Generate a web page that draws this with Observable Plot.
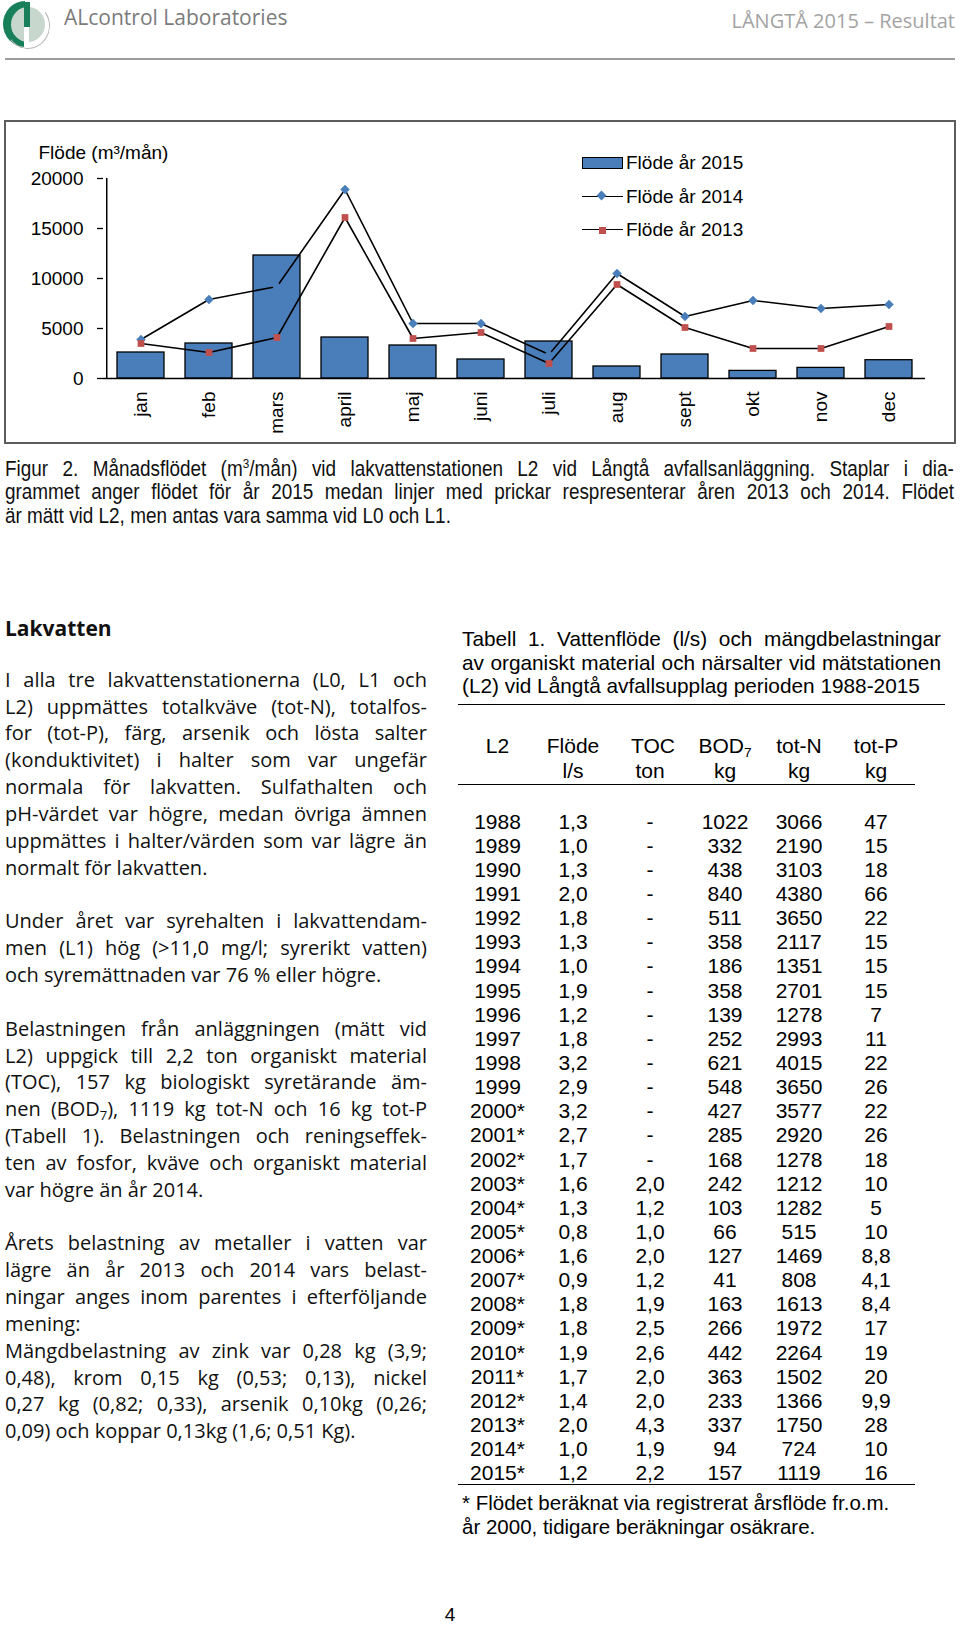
<!DOCTYPE html>
<html lang="sv">
<head>
<meta charset="utf-8">
<script src="https://cdn.jsdelivr.net/npm/d3@7"></script>
<script src="https://cdn.jsdelivr.net/npm/@observablehq/plot@0.6"></script>
<style>
html,body{margin:0;padding:0;background:#fff}
body{width:960px;height:1625px;position:relative;overflow:hidden;font-family:"Liberation Sans",Arial,sans-serif;color:#000}
.abs{position:absolute}
.jl{display:flex;justify-content:space-between;white-space:nowrap}
.ll{white-space:nowrap}
sub{font-size:0.65em;vertical-align:-0.3em;line-height:0}
sup{font-size:0.62em;vertical-align:0.6em;line-height:0}
#chartbox{position:absolute;left:4px;top:120px;width:948px;height:320px;border:2px solid #5c5c5c}
#chartbox svg{display:block;position:absolute;left:0;top:0}
.cell{position:absolute;width:120px;margin-left:-60px;text-align:center;white-space:nowrap;font-size:21px;line-height:24px}
.rule{position:absolute;border-top:1.6px solid #000;height:0}
</style>
</head>
<body>
<!-- logo -->
<div class="abs" style="left:3px;top:1px;width:22px;height:46px;background:#17805a;border-radius:22px 0 0 22px / 23px 0 0 23px"></div>
<div class="abs" style="left:11px;top:7px;width:34px;height:35px;background:#c8d7ce;border-radius:50%"></div>
<div class="abs" style="left:24px;top:2px;width:6px;height:25px;background:#17805a"></div>
<div class="abs" style="left:24px;top:27px;width:5px;height:20px;background:#fff"></div>
<div class="abs" style="left:6px;top:3px;width:42px;height:44px;border-radius:50%;border:1.5px solid transparent;border-right-color:#b5b5b5;border-bottom-color:#b5b5b5;transform:rotate(8deg)"></div>
<div class="abs" style="left:64px;top:3px;font:21px 'Open Sans',sans-serif;color:#7b7b7b;line-height:28px;white-space:nowrap">ALcontrol Laboratories</div>
<div class="abs" style="right:5px;top:7px;font:20px 'Open Sans',sans-serif;color:#a3a3a3;line-height:28px;white-space:nowrap">LÅNGTÅ 2015 – Resultat</div>
<div class="abs" style="left:5px;top:58px;width:950px;border-top:2px solid #9c9c9c"></div>

<div id="chartbox">
  <div id="legend"></div>
</div>

<script>
// ---------- chart data ----------
const months = ["jan","feb","mars","april","maj","juni","juli","aug","sept","okt","nov","dec"];
const flow2015 = [2600, 3500, 12300, 4100, 3300, 1900, 3700, 1200, 2400, 760, 1060, 1830];
const flow2014 = [3900, 7900, 9200, 18900, 5500, 5500, 2400, 10500, 6200, 7800, 7000, 7400];
const flow2013 = [3500, 2600, 4100, 16100, 4000, 4600, 1500, 9400, 5100, 3000, 3000, 5200];
const yTicks = [0, 5000, 10000, 15000, 20000];
const yLabel = "Flöde (m³/mån)";
const seriesLabels = ["Flöde år 2015", "Flöde år 2014", "Flöde år 2013"];

// ---------- table data ----------
const years = ["1988","1989","1990","1991","1992","1993","1994","1995","1996","1997","1998","1999",
  "2000*","2001*","2002*","2003*","2004*","2005*","2006*","2007*","2008*","2009*","2010*","2011*","2012*","2013*","2014*","2015*"];
const flode = ["1,3","1,0","1,3","2,0","1,8","1,3","1,0","1,9","1,2","1,8","3,2","2,9","3,2","2,7","1,7","1,6","1,3","0,8","1,6","0,9","1,8","1,8","1,9","1,7","1,4","2,0","1,0","1,2"];
const toc = ["-","-","-","-","-","-","-","-","-","-","-","-","-","-","-","2,0","1,2","1,0","2,0","1,2","1,9","2,5","2,6","2,0","2,0","4,3","1,9","2,2"];
const bod7 = ["1022","332","438","840","511","358","186","358","139","252","621","548","427","285","168","242","103","66","127","41","163","266","442","363","233","337","94","157"];
const totN = ["3066","2190","3103","4380","3650","2117","1351","2701","1278","2993","4015","3650","3577","2920","1278","1212","1282","515","1469","808","1613","1972","2264","1502","1366","1750","724","1119"];
const totP = ["47","15","18","66","22","15","15","15","7","11","22","26","22","26","18","10","5","10","8,8","4,1","8,4","17","19","20","9,9","28","10","16"];
const headRow1 = ["L2","Flöde","TOC","BOD<sub>7</sub>","tot-N","tot-P"];
const headRow2 = ["","l/s","ton","kg","kg","kg"];

// ---------- chart ----------
const BAR = "#4a7ebb", RED = "#c0504d";
const W = 948, H = 320, ML = 97, MR = 29, MT = 56, MB = 64;
const step = (W - ML - MR) / months.length;
const rows = months.map((m, i) => ({month: m, v15: flow2015[i], v14: flow2014[i], v13: flow2013[i]}));

const chart = Plot.plot({
  width: W, height: H,
  marginLeft: ML, marginRight: MR, marginTop: MT, marginBottom: MB,
  style: {fontFamily: '"Liberation Sans", Arial, sans-serif', fontSize: "19px", color: "#000", background: "transparent", overflow: "visible"},
  x: {domain: months, paddingInner: 0.31, paddingOuter: 0.155, axis: null},
  y: {domain: [0, 20000], axis: null},
  marks: [
    Plot.barY(rows, {x: "month", y: "v15", fill: BAR, stroke: "#000", strokeWidth: 1.3}),
    Plot.line(rows, {x: "month", y: "v14", stroke: "#000", strokeWidth: 1.6}),
    Plot.line(rows, {x: "month", y: "v13", stroke: "#000", strokeWidth: 1.6}),
    Plot.dot(rows, {x: "month", y: "v14", symbol: "diamond2", r: 4.3, fill: BAR}),
    Plot.dot(rows, {x: "month", y: "v13", symbol: "square", r: 3.8, fill: RED}),
    Plot.ruleY([0], {stroke: "#000", strokeWidth: 1.5}),
    Plot.ruleX([months[0]], {y1: 0, y2: 20000, dx: -step / 2, stroke: "#000", strokeWidth: 1.5}),
    Plot.axisY({ticks: yTicks, tickSize: 6, tickPadding: 14, tickFormat: d => String(d), label: null, stroke: "#000", strokeWidth: 1.3}),
    Plot.axisX({tickRotate: -90, tickSize: 0, tickPadding: 13, label: null}),
    Plot.text([yLabel], {text: d => d, frameAnchor: "top-left", dx: -65, dy: -33, textAnchor: "start", fontSize: 19})
  ]
});
document.getElementById("chartbox").appendChild(chart);

// ---------- legend (inside chart box, HTML) ----------
(function () {
  const lg = document.getElementById("legend");
  const ys = [41, 75, 108];
  let h = "";
  h += `<div class="abs" style="left:576px;top:${ys[0]-6}px;width:39px;height:10px;background:${BAR};border:1.3px solid #000"></div>`;
  h += `<div class="abs" style="left:576px;top:${ys[1]-0.8}px;width:41px;border-top:1.6px solid #000"></div>`;
  h += `<div class="abs" style="left:591.5px;top:${ys[1]-5}px;width:7px;height:7px;background:${BAR};transform:rotate(45deg)"></div>`;
  h += `<div class="abs" style="left:576px;top:${ys[2]-0.8}px;width:41px;border-top:1.6px solid #000"></div>`;
  h += `<div class="abs" style="left:593px;top:${ys[2]-3.5}px;width:7px;height:7px;background:${RED}"></div>`;
  seriesLabels.forEach((s, i) => {
    h += `<div class="abs" style="left:620px;top:${ys[i]-12}px;font-size:19px;line-height:24px;white-space:nowrap">${s}</div>`;
  });
  lg.innerHTML = h;
})();

// ---------- text blocks ----------
function block(lines, o) {
  const wrap = document.createElement("div");
  wrap.className = "abs";
  const sx = o.sx || 1;
  Object.assign(wrap.style, {left: o.left + "px", top: o.top + "px", width: (o.width / sx) + "px",
    font: o.font, lineHeight: o.lh + "px", color: o.color || "#000"});
  if (sx !== 1) { wrap.style.transform = `scaleX(${sx})`; wrap.style.transformOrigin = "0 0"; }
  for (const ln of lines) {
    const d = document.createElement("div");
    d.style.height = o.lh + "px";
    if (ln === "") { /* blank line */ }
    else if (ln.startsWith("|")) { d.className = "ll"; d.innerHTML = ln.slice(1); }
    else { d.className = "jl"; d.innerHTML = ln.split(" ").map(w => `<span>${w}</span>`).join(""); }
    wrap.appendChild(d);
  }
  document.body.appendChild(wrap);
}

// figure caption
block([
  "Figur 2. Månadsflödet (m<sup>3</sup>/mån) vid lakvattenstationen L2 vid Långtå avfallsanläggning. Staplar i dia-",
  "grammet anger flödet för år 2015 medan linjer med prickar respresenterar åren 2013 och 2014. Flödet",
  "|är mätt vid L2, men antas vara samma vid L0 och L1."
], {left: 5, top: 457, width: 949, lh: 23.3, font: '22px "Liberation Sans", Arial, sans-serif', sx: 0.86, color: "#111"});

// heading
const hd = document.createElement("div");
hd.className = "abs";
Object.assign(hd.style, {left: "5px", top: "614px", font: 'bold 21px "Open Sans", sans-serif', lineHeight: "28px", color: "#111"});
hd.textContent = "Lakvatten";
document.body.appendChild(hd);

// left body text
block([
  "I alla tre lakvattenstationerna (L0, L1 och",
  "L2) uppmättes totalkväve (tot-N), totalfos-",
  "for (tot-P), färg, arsenik och lösta salter",
  "(konduktivitet) i halter som var ungefär",
  "normala för lakvatten. Sulfathalten och",
  "pH-värdet var högre, medan övriga ämnen",
  "uppmättes i halter/värden som var lägre än",
  "|normalt för lakvatten.",
  "",
  "Under året var syrehalten i lakvattendam-",
  "men (L1) hög (>11,0 mg/l; syrerikt vatten)",
  "|och syremättnaden var 76 % eller högre.",
  "",
  "Belastningen från anläggningen (mätt vid",
  "L2) uppgick till 2,2 ton organiskt material",
  "(TOC), 157 kg biologiskt syretärande äm-",
  "nen (BOD<sub>7</sub>), 1119 kg tot-N och 16 kg tot-P",
  "(Tabell 1). Belastningen och reningseffek-",
  "ten av fosfor, kväve och organiskt material",
  "|var högre än år 2014.",
  "",
  "Årets belastning av metaller i vatten var",
  "lägre än år 2013 och 2014 vars belast-",
  "ningar anges inom parentes i efterföljande",
  "|mening:",
  "Mängdbelastning av zink var 0,28 kg (3,9;",
  "0,48), krom 0,15 kg (0,53; 0,13), nickel",
  "0,27 kg (0,82; 0,33), arsenik 0,10kg (0,26;",
  "|0,09) och koppar 0,13kg (1,6; 0,51 Kg)."
], {left: 5, top: 666.7, width: 422, lh: 26.85, font: '20px "Open Sans", sans-serif', color: "#111"});

// table caption
block([
  "Tabell 1. Vattenflöde (l/s) och mängdbelastningar",
  "av organiskt material och närsalter vid mätstationen",
  "|(L2) vid Långtå avfallsupplag perioden 1988-2015"
], {left: 462, top: 626.7, width: 479, lh: 23.85, font: '20.8px "Liberation Sans", Arial, sans-serif'});

// table
const colX = [497.5, 573, 650, 725, 799, 876];
function cell(txt, x, yc) {
  const d = document.createElement("div");
  d.className = "cell";
  d.style.left = x + "px";
  d.style.top = (yc - 12) + "px";
  d.innerHTML = txt;
  document.body.appendChild(d);
}
function rule(l, t, w) {
  const d = document.createElement("div");
  d.className = "rule";
  Object.assign(d.style, {left: l + "px", top: t + "px", width: w + "px"});
  document.body.appendChild(d);
}
rule(458, 704, 487);
headRow1.forEach((t, j) => cell(t, colX[j] + (j === 2 ? 3 : 0), 746.4));
headRow2.forEach((t, j) => cell(t, colX[j], 771));
rule(458, 784, 457);
const cols = [years, flode, toc, bod7, totN, totP];
years.forEach((_, i) => {
  const yc = 821.7 + i * 24.13;
  cols.forEach((c, j) => cell(c[i], colX[j], yc));
});
rule(458, 1484, 457);

// footnote
block([
  "|* Flödet beräknat via registrerat årsflöde fr.o.m.",
  "|år 2000, tidigare beräkningar osäkrare."
], {left: 462, top: 1490.5, width: 480, lh: 24, font: '20.5px "Liberation Sans", Arial, sans-serif'});

// page number
const pn = document.createElement("div");
pn.className = "abs";
Object.assign(pn.style, {left: "444px", top: "1603px", width: "12px", textAlign: "center", fontSize: "19px", lineHeight: "24px"});
pn.textContent = "4";
document.body.appendChild(pn);
</script>
</body>
</html>
